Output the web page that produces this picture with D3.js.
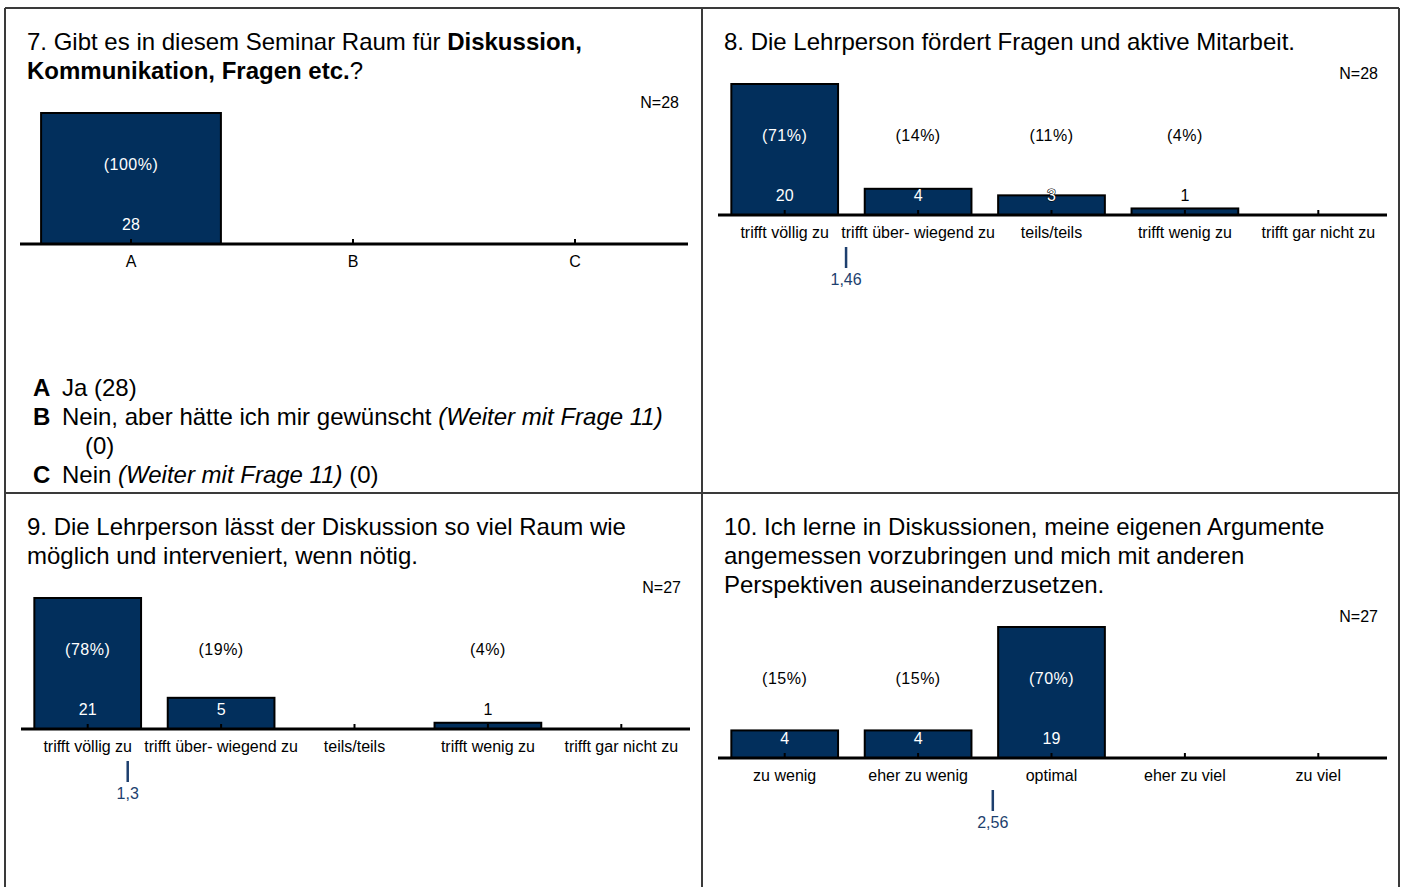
<!DOCTYPE html>
<html>
<head>
<meta charset="utf-8">
<script src="https://cdn.jsdelivr.net/npm/d3@7"></script>
<style>
  body { margin: 0; background: #fff; }
  svg { display: block; font-family: "Liberation Sans", Arial, sans-serif; }
</style>
</head>
<body>
<div class="svg-container"></div>
<script>
// data
var abcCategories = ["A", "B", "C"];
var q7Counts = [28, 0, 0];
var q7Percent = [100, 0, 0];
var q7N = 28;

var agreeCategories = ["trifft völlig zu", "trifft über- wiegend zu", "teils/teils", "trifft wenig zu", "trifft gar nicht zu"];
var q8Counts = [20, 4, 3, 1, 0];
var q8Percent = [71, 14, 11, 4, 0];
var q8N = 28;
var q8Mean = 1.46;

var q9Counts = [21, 5, 0, 1, 0];
var q9Percent = [78, 19, 0, 4, 0];
var q9N = 27;
var q9Mean = 1.3;

var amountCategories = ["zu wenig", "eher zu wenig", "optimal", "eher zu viel", "zu viel"];
var q10Counts = [4, 4, 19, 0, 0];
var q10Percent = [15, 15, 70, 0, 0];
var q10N = 27;
var q10Mean = 2.56;

var navy = "#022f5c";
var meanColor = "#1d3f6e";

var svg = d3.select(".svg-container").append("svg")
    .attr("width", 1401)
    .attr("height", 887);

// grid lines
var gridColor = "#3a3a3a";
svg.append("line").attr("x1", 5).attr("x2", 1399).attr("y1", 8).attr("y2", 8)
    .attr("stroke", gridColor).attr("stroke-width", 2);
svg.append("line").attr("x1", 5).attr("x2", 1399).attr("y1", 493).attr("y2", 493)
    .attr("stroke", gridColor).attr("stroke-width", 2);
svg.append("line").attr("x1", 5).attr("x2", 5).attr("y1", 8).attr("y2", 887)
    .attr("stroke", gridColor).attr("stroke-width", 2);
svg.append("line").attr("x1", 702).attr("x2", 702).attr("y1", 8).attr("y2", 887)
    .attr("stroke", gridColor).attr("stroke-width", 2);
svg.append("line").attr("x1", 1399).attr("x2", 1399).attr("y1", 8).attr("y2", 887)
    .attr("stroke", gridColor).attr("stroke-width", 2);

// title: array of lines, each line array of [text, bold]
function drawTitle(x, y, lines) {
    lines.forEach(function(parts, i) {
        var t = svg.append("text")
            .attr("x", x)
            .attr("y", y + i * 29)
            .style("font-size", "24px")
            .attr("fill", "#000");
        parts.forEach(function(p) {
            t.append("tspan").text(p[0]).style("font-weight", p[1] ? "bold" : "normal");
        });
    });
}

function drawPanel(opts) {
    var base = opts.base;
    var x = d3.scaleBand()
        .domain(opts.categories)
        .range(opts.range)
        .paddingInner(opts.padding)
        .paddingOuter(opts.padding / 2);
    var maxCount = d3.max(opts.counts);
    var y = d3.scaleLinear().domain([0, maxCount]).range([base, base - 131]);

    var g = svg.append("g");
    var data = opts.categories.map(function(c, i) {
        return { cat: c, count: opts.counts[i], pct: opts.percent[i] };
    });

    // N label
    g.append("text")
        .attr("x", opts.range[1] - 7)
        .attr("y", base - 136)
        .attr("text-anchor", "end")
        .style("font-size", "16px")
        .text("N=" + opts.n);

    // bars
    g.selectAll(".bar").data(data).enter().append("rect")
        .attr("class", "bar")
        .attr("x", function(d) { return x(d.cat); })
        .attr("y", function(d) { return y(d.count); })
        .attr("width", x.bandwidth())
        .attr("height", function(d) { return base - y(d.count); })
        .attr("fill", navy)
        .attr("stroke", "#000")
        .attr("stroke-width", 2);

    // axis
    var axis = g.append("g")
        .attr("transform", "translate(0," + base + ")")
        .call(d3.axisBottom(x).tickSize(0).tickFormat(""));
    axis.select(".domain").remove();
    g.append("line")
        .attr("x1", opts.range[0]).attr("x2", opts.range[1] + 2)
        .attr("y1", base).attr("y2", base)
        .attr("stroke", "#000").attr("stroke-width", 3);
    g.selectAll(".tk").data(data).enter().append("line")
        .attr("x1", function(d) { return x(d.cat) + x.bandwidth() / 2; })
        .attr("x2", function(d) { return x(d.cat) + x.bandwidth() / 2; })
        .attr("y1", base - 5).attr("y2", base)
        .attr("stroke", "#000").attr("stroke-width", 2);

    // category labels
    g.selectAll(".cl").data(data).enter().append("text")
        .attr("x", function(d) { return x(d.cat) + x.bandwidth() / 2; })
        .attr("y", base + 23)
        .attr("text-anchor", "middle")
        .style("font-size", "16px")
        .text(function(d) { return d.cat; });

    // percentages
    g.selectAll(".pl").data(data.filter(function(d) { return d.count > 0; })).enter().append("text")
        .attr("x", function(d) { return x(d.cat) + x.bandwidth() / 2; })
        .attr("y", base - 74)
        .attr("text-anchor", "middle")
        .style("font-size", "16px")
        .style("letter-spacing", "0.5px")
        .attr("fill", function(d) { return y(d.count) < base - 90 ? "#fff" : "#000"; })
        .text(function(d) { return "(" + d.pct + "%)"; });

    // counts
    g.selectAll(".nl").data(data.filter(function(d) { return d.count > 0; })).enter().append("text")
        .attr("x", function(d) { return x(d.cat) + x.bandwidth() / 2; })
        .attr("y", base - 14)
        .attr("text-anchor", "middle")
        .style("font-size", "16px")
        .attr("fill", function(d) { return base - y(d.count) >= 12 ? "#fff" : "#000"; })
        .attr("stroke", function(d) {
            var h = base - y(d.count);
            return (h >= 12 && h < 24) ? "#000" : "none";
        })
        .attr("stroke-width", 1.2)
        .style("paint-order", "stroke")
        .text(function(d) { return d.count; });

    // mean marker
    if (opts.mean !== undefined) {
        var pos = d3.scaleLinear()
            .domain([1, opts.categories.length])
            .range([x(opts.categories[0]) + x.bandwidth() / 2,
                    x(opts.categories[opts.categories.length - 1]) + x.bandwidth() / 2]);
        g.append("line")
            .attr("x1", pos(opts.mean)).attr("x2", pos(opts.mean))
            .attr("y1", base + 32).attr("y2", base + 53)
            .attr("stroke", meanColor).attr("stroke-width", 2.5);
        g.append("text")
            .attr("x", pos(opts.mean))
            .attr("y", base + 70)
            .attr("text-anchor", "middle")
            .style("font-size", "16px")
            .attr("fill", meanColor)
            .text(String(opts.mean).replace(".", ","));
    }
}

// 7
drawTitle(27, 50, [
    [["7. Gibt es in diesem Seminar Raum für ", false], ["Diskussion,", true]],
    [["Kommunikation, Fragen etc.", true], ["?", false]]
]);
drawPanel({ categories: abcCategories, counts: q7Counts, percent: q7Percent, n: q7N,
    base: 244, range: [20, 686], padding: 0.19 });

// legend for 7
var legend = [
    { key: "A", parts: [["Ja (28)", false]] },
    { key: "B", parts: [["Nein, aber hätte ich mir gewünscht ", false], ["(Weiter mit Frage 11)", true]], extra: "(0)" },
    { key: "C", parts: [["Nein ", false], ["(Weiter mit Frage 11)", true], [" (0)", false]] }
];
var ly = 396;
legend.forEach(function(l) {
    svg.append("text").attr("x", 33).attr("y", ly)
        .style("font-size", "24px").style("font-weight", "bold").text(l.key);
    var t = svg.append("text").attr("x", 62).attr("y", ly).style("font-size", "24px");
    l.parts.forEach(function(p) {
        t.append("tspan").text(p[0]).style("font-style", p[1] ? "italic" : "normal");
    });
    ly += 29;
    if (l.extra) {
        svg.append("text").attr("x", 85).attr("y", ly).style("font-size", "24px").text(l.extra);
        ly += 29;
    }
});

// 8
drawTitle(724, 50, [[["8. Die Lehrperson fördert Fragen und aktive Mitarbeit.", false]]]);
drawPanel({ categories: agreeCategories, counts: q8Counts, percent: q8Percent, n: q8N, mean: q8Mean,
    base: 215, range: [718, 1385], padding: 0.2 });

// 9
drawTitle(27, 535, [
    [["9. Die Lehrperson lässt der Diskussion so viel Raum wie", false]],
    [["möglich und interveniert, wenn nötig.", false]]
]);
drawPanel({ categories: agreeCategories, counts: q9Counts, percent: q9Percent, n: q9N, mean: q9Mean,
    base: 729, range: [21, 688], padding: 0.2 });

// 10
drawTitle(724, 535, [
    [["10. Ich lerne in Diskussionen, meine eigenen Argumente", false]],
    [["angemessen vorzubringen und mich mit anderen", false]],
    [["Perspektiven auseinanderzusetzen.", false]]
]);
drawPanel({ categories: amountCategories, counts: q10Counts, percent: q10Percent, n: q10N, mean: q10Mean,
    base: 758, range: [718, 1385], padding: 0.2 });
</script>
</body>
</html>
